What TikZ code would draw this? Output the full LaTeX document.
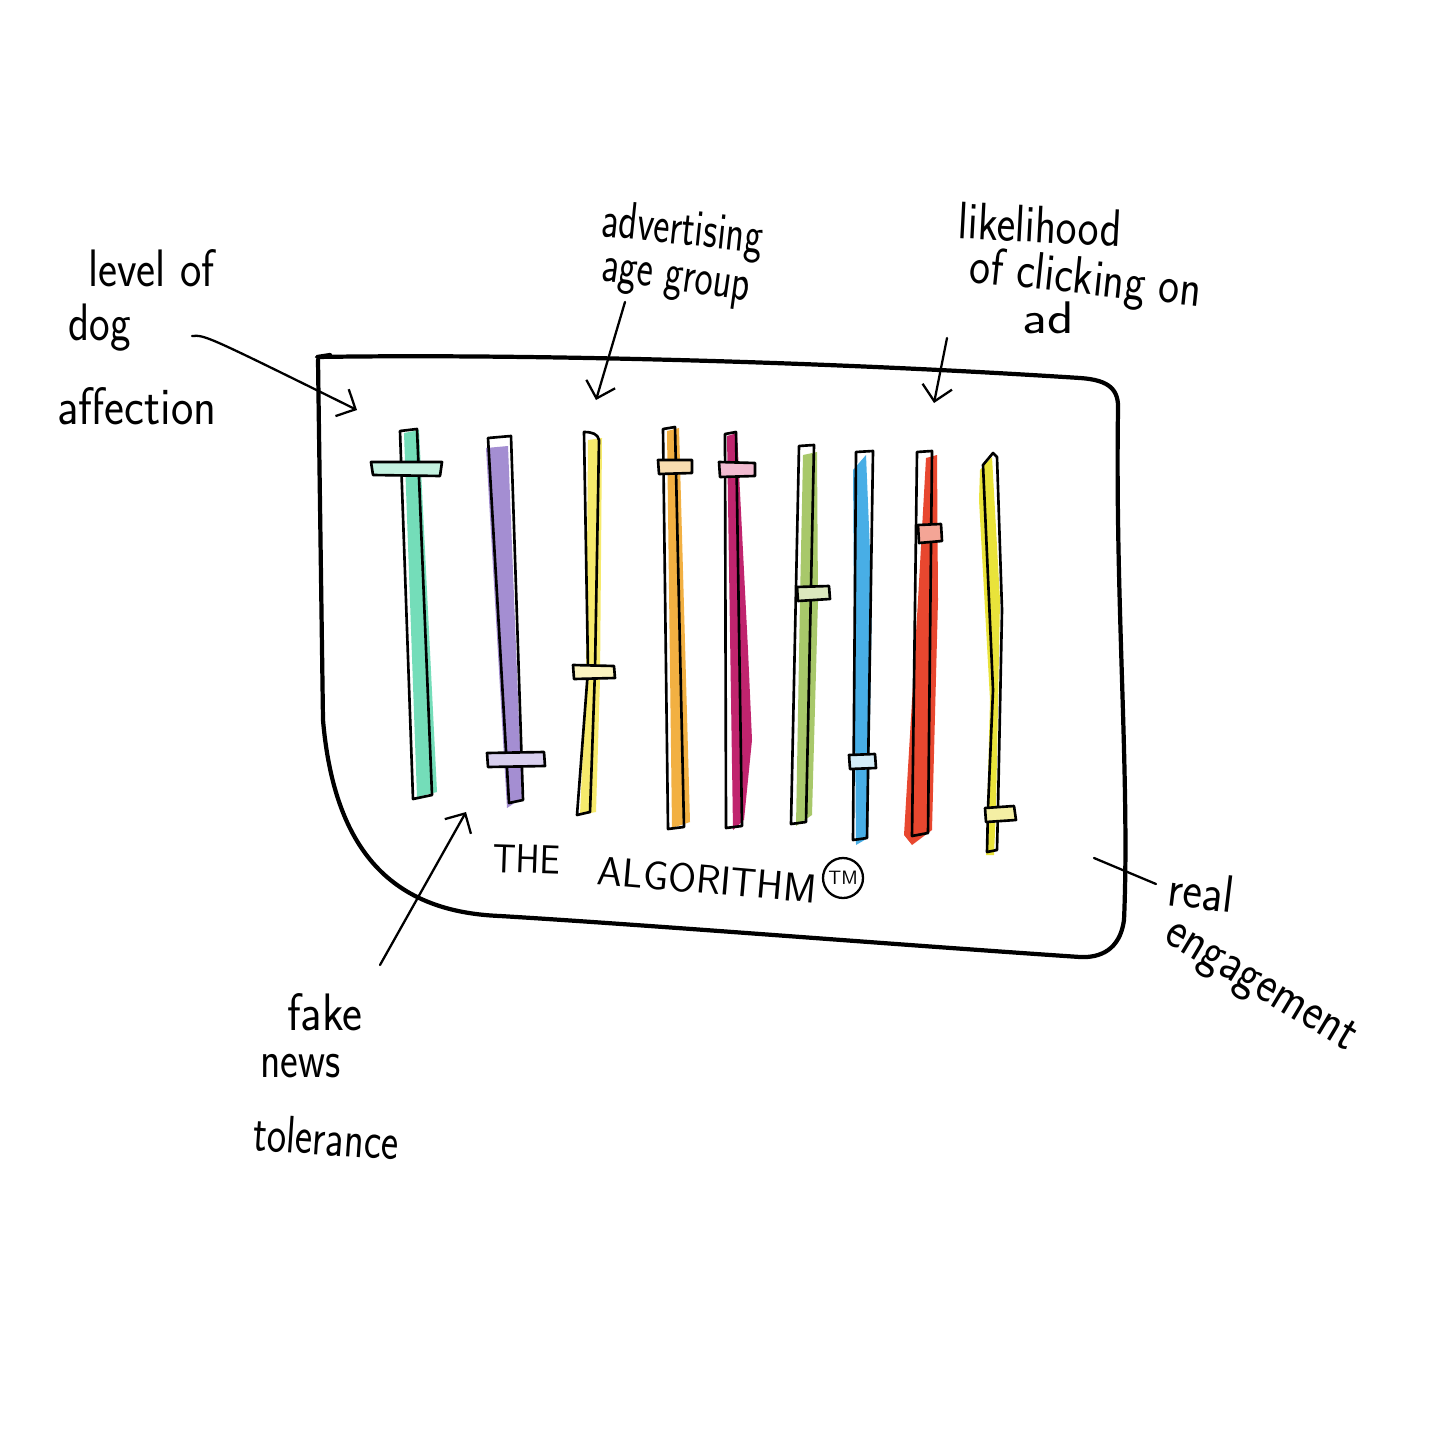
\documentclass[tikz,border=0pt]{standalone}
\usepackage{graphicx}
\usetikzlibrary{arrows.meta}
\definecolor{cTeal}{HTML}{74DDB9}\definecolor{kTeal}{HTML}{C4F2E0}
\definecolor{cPurple}{HTML}{A48ED2}\definecolor{kPurple}{HTML}{D8CFEE}
\definecolor{cYellow}{HTML}{F6EA6C}\definecolor{kYellow}{HTML}{FBF3C0}
\definecolor{cOrange}{HTML}{F2B042}\definecolor{kOrange}{HTML}{F8DDB0}
\definecolor{cMagenta}{HTML}{C0246E}\definecolor{kMagenta}{HTML}{F2BBD1}
\definecolor{cGreen}{HTML}{A8C86A}\definecolor{kGreen}{HTML}{DCE8BE}
\definecolor{cBlue}{HTML}{48AEE6}\definecolor{kBlue}{HTML}{D3ECF8}
\definecolor{cRed}{HTML}{E8472F}\definecolor{kRed}{HTML}{F4A596}
\definecolor{cYellowB}{HTML}{E9E33A}\definecolor{kYellowB}{HTML}{F4EFA4}
\newcommand{\hw}[2]{\scalebox{#1}[1]{#2}}
\tikzset{
  frame/.style={line width=2.4pt, line join=round, line cap=round},
  trk/.style={line width=1.5pt, line join=round, line cap=round},
  knob/.style={line width=1.5pt, line join=round},
  arr/.style={line width=1.3pt, line cap=round, -{Straight Barb[length=3mm,width=6mm]}},
  plainline/.style={line width=1.3pt, line cap=round},
  lbl/.style={font=\sffamily\fontsize{30}{36}\selectfont, anchor=base west, inner sep=0pt},
  capslbl/.style={font=\sffamily\fontsize{23}{28}\selectfont, anchor=base west, inner sep=0pt},
}
\begin{document}
\begin{tikzpicture}[x=0.02cm,y=-0.02cm]
\fill[white] (0,0) rectangle (1456,1456);
\useasboundingbox (0,0) rectangle (1456,1456);

% frame
\draw[frame] (330,355) -- (317,357)
  .. controls (500,354) and (800,360) .. (1080,378)
  .. controls (1110,380) and (1119,390) .. (1118,410)
  .. controls (1115,600) and (1130,780) .. (1124,920)
  .. controls (1120,950) and (1100,958) .. (1080,957)
  .. controls (900,945) and (650,925) .. (500,916)
  .. controls (400,912) and (335,860) .. (323,720)
  -- (318,360);

% slider 1 teal
\fill[cTeal] (404,433) -- (419,430) -- (437,792) -- (417,797) -- cycle;
\draw[trk] (400,431) -- (417,429) -- (432,795) -- (413,799) -- cycle;
\filldraw[knob, fill=kTeal] (371,462) -- (442,462) -- (440,476) -- (373,475) -- cycle;
% slider 2 purple
\fill[cPurple] (486,448) -- (508,446) -- (522,798) -- (507,808) -- cycle;
\draw[trk] (488,438) -- (511,436) -- (523,800) -- (509,803) -- cycle;
\filldraw[knob, fill=kPurple] (487,753) -- (544,752) -- (545,766) -- (488,767) -- cycle;
% slider 3 yellow
\fill[cYellow] (588,440) -- (602,438) -- (600,680) -- (596,812) -- (580,815) -- (586,680) -- cycle;
\draw[trk] (584,432) .. controls (592,432) and (598,434) .. (599,440) -- (595,670) -- (590,812) -- (577,815) -- (588,670) -- cycle;
\filldraw[knob, fill=kYellow] (573,665) -- (614,666) -- (615,678) -- (574,679) -- cycle;
% slider 4 orange
\fill[cOrange] (667,431) -- (679,428) -- (690,822) -- (672,828) -- cycle;
\draw[trk] (663,429) -- (675,427) -- (684,827) -- (668,829) -- cycle;
\filldraw[knob, fill=kOrange] (658,460) -- (692,460) -- (692,473) -- (659,474) -- cycle;
% slider 5 magenta
\fill[cMagenta] (727,436) -- (737,433) -- (748,650) -- (752,740) -- (744,820) -- (733,830) -- cycle;
\draw[trk] (725,434) -- (736,432) -- (742,826) -- (726,828) -- cycle;
\filldraw[knob, fill=kMagenta] (719,462) -- (755,463) -- (755,476) -- (720,477) -- cycle;
% slider 6 green
\fill[cGreen] (803,455) -- (817,452) -- (818,600) -- (812,815) -- (796,826) -- (800,600) -- cycle;
\draw[trk] (799,446) -- (814,445) -- (806,822) -- (791,824) -- cycle;
\filldraw[knob, fill=kGreen] (797,587) -- (829,586) -- (830,599) -- (798,601) -- cycle;
% slider 7 blue
\fill[cBlue] (853,470) -- (866,455) -- (872,600) -- (868,838) -- (856,845) -- (854,600) -- cycle;
\draw[trk] (856,452) -- (873,451) -- (867,838) -- (853,840) -- cycle;
\filldraw[knob, fill=kBlue] (849,755) -- (875,754) -- (876,768) -- (850,769) -- cycle;
% slider 8 red
\fill[cRed] (926,458) -- (937,455) -- (938,600) -- (932,830) -- (912,845) -- (904,835) -- (918,600) -- cycle;
\draw[trk] (917,452) -- (932,451) -- (928,833) -- (912,836) -- cycle;
\filldraw[knob, fill=kRed] (918,525) -- (941,524) -- (942,541) -- (919,543) -- cycle;
% slider 9 yellow
\fill[cYellowB] (980,470) -- (992,457) -- (1000,600) -- (996,808) -- (994,855) -- (986,855) -- (990,700) -- (979,500) -- cycle;
\draw[trk] (983,465) -- (993,453) -- (997,457) -- (1002,610) -- (998,808) -- (997,850) -- (987,852) -- (988,808) -- (993,690) -- cycle;
\filldraw[knob, fill=kYellowB] (985,808) -- (1014,806) -- (1016,820) -- (986,822) -- cycle;

% title
\node[capslbl, rotate=-2] (the) at (492,872) {\hw{0.9}{THE}};
\node[capslbl, rotate=-5] (algo) at (596,884) {\hw{1.0}{ALGORITHM}};
\node[circle, draw, line width=1.3pt, minimum size=0.8cm, inner sep=0pt,
      font=\sffamily\fontsize{11}{12}\selectfont] (tm) at (843,878) {TM};

% labels
\node[lbl] (lvlA) at (88,287) {\hw{0.86}{level of}};
\node[lbl] (lvlB) at (68,340) {\hw{0.83}{dog}};
\node[lbl] (lvlC) at (57,424) {\hw{0.9}{affection}};
\node[lbl, rotate=-6] (advA) at (600,236) {\hw{0.73}{advertising}};
\node[lbl, rotate=-8] (advB) at (600,280) {\hw{0.73}{age group}};
\node[lbl, rotate=-3] (likA) at (957,238) {\hw{0.84}{likelihood}};
\node[lbl, rotate=-6] (likB) at (968,282) {\hw{0.84}{of clicking on}};
\node[lbl, font=\sffamily\fontsize{26}{30}\selectfont] (likC) at (1022,334) {\hw{1.2}{ad}};
\node[lbl] (fakA) at (287,1030) {\hw{0.9}{fake}};
\node[lbl] (fakB) at (260,1077) {\hw{0.8}{news}};
\node[lbl, rotate=-4] (fakC) at (252,1150) {\hw{0.78}{tolerance}};
\node[lbl, rotate=-7] (realA) at (1166,905) {\hw{0.88}{real}};
\node[lbl, rotate=-31] (realB) at (1162,940) {\hw{0.87}{engagement}};

% arrows
\coordinate (dogS) at (192,336); \coordinate (dogE) at (357,410);
\coordinate (advS) at (625,302); \coordinate (advE) at (596,400);
\coordinate (likS) at (947,338); \coordinate (likE) at (934,403);
\coordinate (fakS) at (380,965); \coordinate (fakE) at (466,812);
\coordinate (realS) at (1094,858); \coordinate (realE) at (1156,884);
\draw[arr] (dogS) .. controls (205,335) .. (dogE);
\draw[arr] (advS) -- (advE);
\draw[arr] (likS) -- (likE);
\draw[arr] (fakS) -- (fakE);
\draw[plainline] (realS) -- (realE);
\end{tikzpicture}
\end{document}
